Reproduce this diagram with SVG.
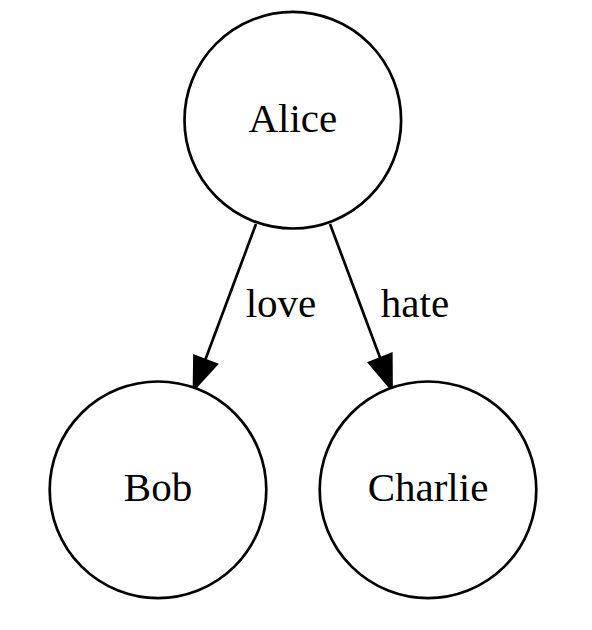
<svg xmlns="http://www.w3.org/2000/svg" width="592" height="630" viewBox="0 0 592 630">
<style>
.node ellipse{fill:#fff;stroke:#000;stroke-width:2.7}
.lbl{font-family:"Liberation Serif",serif;font-size:41px;fill:#000;text-anchor:middle}
.edge line{stroke:#000;stroke-width:2.7}
.edge polygon{fill:#000;stroke:#000;stroke-width:2.7}
</style>
<rect width="592" height="630" fill="#fff"/>
<g id="connectors">
<g class="edge" id="e_love">
<line x1="256" y1="224" x2="205.3" y2="359.8"/>
<polygon points="194.5,356 216.5,364.2 194,389"/>
</g>
<g class="edge" id="e_hate">
<line x1="330" y1="224" x2="380.3" y2="358.3"/>
<polygon points="369.3,362.7 391.3,354 391.5,389"/>
</g>
<text class="lbl" x="281" y="316.5">love</text>
<text class="lbl" x="415" y="316.5">hate</text>
</g>
<g class="node" id="Alice">
<ellipse cx="292.8" cy="120.2" rx="108.3" ry="108.3"/>
<text class="lbl" x="292.8" y="131.5">Alice</text>
</g>
<g class="node" id="Bob">
<ellipse cx="158" cy="489.8" rx="108.3" ry="108.3"/>
<text class="lbl" x="158" y="500.5">Bob</text>
</g>
<g class="node" id="Charlie">
<ellipse cx="428" cy="489.8" rx="108.3" ry="108.3"/>
<text class="lbl" x="428" y="500.5">Charlie</text>
</g>
</svg>
